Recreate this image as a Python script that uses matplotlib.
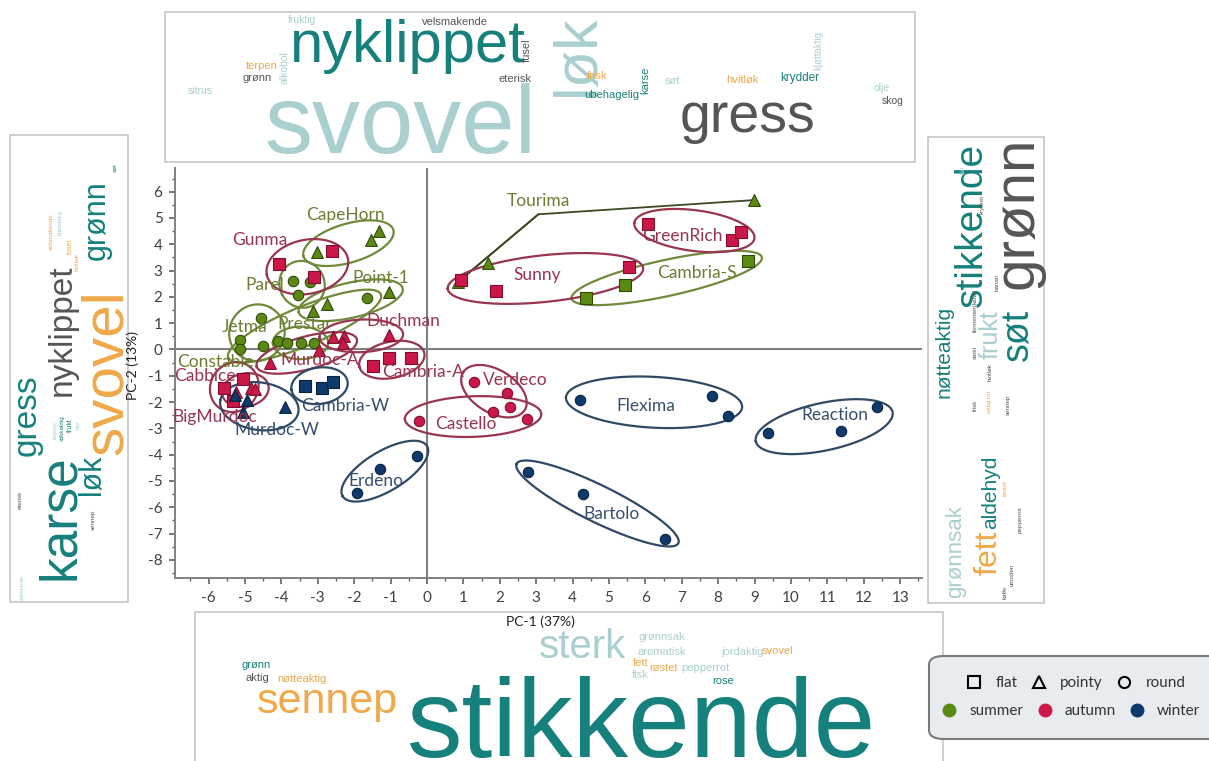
import matplotlib
matplotlib.use("Agg")
import matplotlib.pyplot as plt
import numpy as np
from matplotlib.patches import Rectangle, FancyBboxPatch
from matplotlib.lines import Line2D
from matplotlib.ticker import MultipleLocator

plt.rcParams["axes.unicode_minus"] = False
W, H = 1209, 761

# ---------------- data ----------------
names = ["CapeHorn", "Parel", "Point-1", "Jetma", "Prestar", "Constable", "Cambria-S", "Tourima",
         "Gunma", "Sunny", "GreenRich", "Duchman", "Murdoc-A", "Cambria-A", "Cabbice", "BigMurdoc",
         "Verdeco", "Castello",
         "Cambria-W", "Murdoc-W", "Erdeno", "Flexima", "Reaction", "Bartolo"]
seasons = ["summer"] * 8 + ["autumn"] * 10 + ["winter"] * 6
shapes = ["pointy", "round", "pointy", "round", "round", "round", "flat", "pointy",
          "flat", "flat", "flat", "pointy", "pointy", "flat", "flat", "pointy", "round", "round",
          "flat", "pointy", "round", "round", "round", "round"]
pc1 = [
    [-3.03, -1.54, -1.32],          # CapeHorn
    [-3.69, -3.54, -3.21],          # Parel
    [-3.14, -2.76, -1.04],          # Point-1
    [-4.57, -5.14, -4.51],          # Jetma
    [-5.14, -4.09, -1.64],          # Prestar
    [-3.85, -3.46, -3.10],          # Constable
    [4.36, 5.43, 8.83],             # Cambria-S
    [0.84, 1.68, 8.99],             # Tourima
    [-4.07, -2.61, -3.10],          # Gunma
    [0.93, 1.90, 5.55],             # Sunny
    [6.08, 8.37, 8.63],             # GreenRich
    [-2.57, -2.28, -1.04],          # Duchman
    [-4.31, -2.97, -2.30],          # Murdoc-A
    [-1.47, -1.04, -0.44],          # Cambria-A
    [-5.58, -5.05, -5.32],          # Cabbice
    [-4.84, -4.73, -5.25],          # BigMurdoc
    [1.29, 2.19, 2.28],             # Verdeco
    [-0.22, 1.80, 2.76],            # Castello
    [-3.35, -2.88, -2.57],          # Cambria-W
    [-5.27, -4.95, -5.05, -3.90],   # Murdoc-W
    [-1.93, -1.29, -0.28],          # Erdeno
    [4.20, 7.82, 8.26],             # Flexima
    [9.38, 11.37, 12.37],           # Reaction
    [2.78, 4.29, 6.54],             # Bartolo
]
pc2 = [
    [3.72, 4.16, 4.52],
    [2.62, 2.07, 2.58],
    [1.48, 1.72, 2.19],
    [1.19, 0.36, 0.13],
    [0.01, 0.33, 1.95],
    [0.24, 0.26, 0.24],
    [1.97, 2.45, 3.36],
    [2.56, 3.29, 5.68],
    [3.26, 3.76, 2.77],
    [2.64, 2.22, 3.13],
    [4.77, 4.17, 4.46],
    [0.46, 0.50, 0.56],
    [-0.50, -0.02, 0.26],
    [-0.62, -0.33, -0.31],
    [-1.48, -1.13, -1.96],
    [-1.48, -1.50, -1.62],
    [-1.22, -1.64, -2.20],
    [-2.72, -2.36, -2.64],
    [-1.39, -1.45, -1.22],
    [-1.73, -1.92, -2.37, -2.17],
    [-5.44, -4.56, -4.06],
    [-1.92, -1.77, -2.52],
    [-3.19, -3.10, -2.20],
    [-4.66, -5.49, -7.19],
]
x_ticks = list(range(-6, 14))
y_ticks = list(range(-8, 7))
x_label = "PC-1 (37%)"
y_label = "PC-2 (13%)"

# ---------------- styles ----------------
face = {"summer": "#5b8a14", "autumn": "#cc1748", "winter": "#0d3a6a"}
edge = {"summer": "#2f4a05", "autumn": "#7c0f2e", "winter": "#08233f"}
ring = {"summer": "#6f8a3a", "autumn": "#99354f", "winter": "#2f4a66"}
lab_col = {"summer": "#6b7d32", "autumn": "#9a3350", "winter": "#34506e"}
mk = {"flat": "s", "pointy": "^", "round": "o"}
msize = {"flat": 64, "pointy": 72, "round": 56}

# label positions (data coords) for the group names
label_pos = {
    "CapeHorn": (-2.23, 5.11), "Gunma": (-4.59, 4.16), "Parel": (-4.45, 2.45), "Point-1": (-1.26, 2.72),
    "Jetma": (-5.0, 0.86), "Prestar": (-3.35, 0.97), "Duchman": (-0.66, 1.08), "Constable": (-5.82, -0.48),
    "Murdoc-A": (-2.94, -0.40), "Cabbice": (-6.1, -1.0), "Cambria-A": (-0.11, -0.86),
    "BigMurdoc": (-5.82, -2.57), "Cambria-W": (-2.25, -2.15), "Murdoc-W": (-4.12, -3.06),
    "Verdeco": (2.42, -1.16), "Castello": (1.07, -2.83), "Flexima": (6.02, -2.15),
    "Reaction": (11.21, -2.49), "Erdeno": (-1.40, -5.0), "Bartolo": (5.08, -6.25),
    "Sunny": (3.02, 2.83), "GreenRich": (7.03, 4.32), "Cambria-S": (7.42, 2.91), "Tourima": (3.05, 5.65),
}
tourima_bend = (3.06, 5.14)

UI = ["Lato", "DejaVu Sans"]
WC = ["Liberation Sans", "DejaVu Sans"]

fig = plt.figure(figsize=(W / 100, H / 100), dpi=100)
fig.patch.set_facecolor("white")


def fx(x):
    return x / W


def fy(y):
    return 1 - y / H


# ---------------- word cloud panels ----------------
panels = [(165, 12, 915, 162), (10, 135, 128, 602), (928, 137, 1044, 603), (195, 612, 943, 775)]
for (x0, y0, x1, y1) in panels:
    fig.add_artist(Rectangle((fx(x0), fy(y1)), (x1 - x0) / W, (y1 - y0) / H, transform=fig.transFigure,
                             fc="white", ec="#c6c6c6", lw=1.2, zorder=0))

T, L, G, O = "#16807d", "#a9cfd0", "#555555", "#f0a848"
top_words = [
    ("svovel", 400, 153, 69, L, 0, "baseline"),
    ("nyklippet", 407, 62, 43, T, 0, "baseline"),
    ("gress", 748, 132, 40, G, 0, "baseline"),
    ("løk", 578, 55, 44, L, 90, "center"),
    ("fruktig", 302, 20, 7.5, L, 0, "center"),
    ("velsmakende", 455, 22, 8, G, 0, "center"),
    ("terpen", 262, 66, 8, O, 0, "center"),
    ("grønn", 257, 78, 8, G, 0, "center"),
    ("alkohol", 285, 68, 7.5, L, 90, "center"),
    ("sitrus", 200, 91, 7.5, L, 0, "center"),
    ("fusel", 527, 50, 8, G, 90, "center"),
    ("eterisk", 515, 79, 8, G, 0, "center"),
    ("frisk", 597, 76, 8, O, 0, "center"),
    ("ubehagelig", 612, 95, 8, T, 0, "center"),
    ("karse", 645, 80, 8, T, 90, "center"),
    ("søt", 672, 81, 8, L, 0, "center"),
    ("hvitløk", 742, 80, 8, O, 0, "center"),
    ("krydder", 800, 78, 8.5, T, 0, "center"),
    ("kjøttaktig", 818, 50, 7, L, 90, "center"),
    ("olje", 882, 88, 7.5, L, 0, "center"),
    ("skog", 893, 101, 7.5, G, 0, "center"),
]
bottom_words = [
    ("stikkende", 642, 757, 80, T, 0, "baseline"),
    ("sennep", 327, 713, 31, O, 0, "baseline"),
    ("sterk", 582, 658, 29, L, 0, "baseline"),
    ("grønnsak", 662, 637, 8, L, 0, "center"),
    ("aromatisk", 662, 652, 8, L, 0, "center"),
    ("jordaktig", 743, 652, 8, L, 0, "center"),
    ("svovel", 778, 651, 8, O, 0, "center"),
    ("fett", 641, 663, 8, O, 0, "center"),
    ("fisk", 640, 675, 8, L, 0, "center"),
    ("røstet", 664, 668, 8, O, 0, "center"),
    ("pepperrot", 705, 668, 8, L, 0, "center"),
    ("rose", 723, 681, 8, T, 0, "center"),
    ("grønn", 256, 665, 8, T, 0, "center"),
    ("aktig", 257, 678, 8, G, 0, "center"),
    ("nøtteaktig", 302, 679, 8, O, 0, "center"),
]
left_words = [
    ("karse", 60, 517, 37, T), ("svovel", 107, 372, 42, O), ("gress", 27, 415, 24, T),
    ("nyklippet", 62, 330, 24, G), ("løk", 91, 475, 22, T), ("grønn", 97, 220, 22, T),
    ("søt", 115, 168, 4.5, T), ("kjøttaktig", 60, 222, 4.5, L), ("velsmakende", 51, 232, 4.5, O),
    ("fusel", 70, 246, 5, O), ("hvitløk", 77, 262, 4.5, O), ("frukt", 70, 425, 5, T),
    ("olje", 78, 425, 4.5, L), ("terpen", 55, 430, 4.5, L), ("stikkaktig", 62, 428, 4.5, T),
    ("eterisk", 20, 500, 4.5, G), ("sennep", 93, 520, 4.5, G), ("stikkende", 22, 588, 4.5, L),
]
right_words = [
    ("grønn", 1018, 213, 42, G), ("stikkende", 972, 225, 28, T), ("søt", 1018, 335, 27, T),
    ("frukt", 991, 335, 18, L), ("nøtteaktig", 944, 352, 15, T), ("aldehyd", 991, 492, 15, T),
    ("fett", 988, 553, 23, O), ("grønnsak", 956, 552, 16, L),
    ("banan", 997, 282, 4.5, G), ("kanel", 975, 297, 4.5, G), ("fermentert", 975, 318, 4.5, G),
    ("stekt", 975, 352, 4.5, G), ("hvitløk", 990, 372, 4.5, G), ("aktig rot", 990, 402, 4.5, O),
    ("frisk", 975, 405, 4.5, G), ("sennep", 1008, 405, 4.5, G), ("røstet", 1005, 488, 4.5, O),
    ("pepperrot", 1020, 520, 4.5, G), ("umoden", 1012, 575, 4.5, G), ("kaffe", 1005, 592, 4.5, G),
    ("krydret", 982, 205, 4.5, G), ("kål", 963, 170, 4.5, L),
]
for (w, x, y, s, c, r, va) in top_words + bottom_words:
    fig.text(fx(x), fy(y), w, fontsize=s, color=c, rotation=r, ha="center", va=va, family=WC, zorder=1)
for (w, x, y, s, c) in left_words + right_words:
    fig.text(fx(x), fy(y), w, fontsize=s, color=c, rotation=90, ha="center", va="center", family=WC, zorder=1)

# ---------------- main axes ----------------
ax = fig.add_axes([fx(175), fy(578), (922 - 175) / W, (578 - 168) / H])
ax.patch.set_alpha(0)
ax.set_xlim(-6.923, 13.6)
ax.set_ylim(-8.69, 6.90)
for s in ("top", "right"):
    ax.spines[s].set_visible(False)
for s in ("left", "bottom"):
    ax.spines[s].set_color("#808080")
    ax.spines[s].set_linewidth(1.4)
ax.set_xticks(x_ticks)
ax.set_yticks(y_ticks)
ax.xaxis.set_minor_locator(MultipleLocator(0.5))
ax.yaxis.set_minor_locator(MultipleLocator(0.5))
ax.tick_params(which="major", direction="out", length=4, width=1.2, color="#606060",
               labelsize=11, labelcolor="#404040", pad=5)
ax.tick_params(which="minor", direction="out", length=2, width=1.0, color="#606060")
for lab in ax.get_xticklabels() + ax.get_yticklabels():
    lab.set_family(UI)
ax.axhline(0, color="#808080", lw=1.5, zorder=1)
ax.axvline(0, color="#808080", lw=1.5, zorder=1)


def ring_path(xs, ys, pad_a=14.0, pad_b=16.0):
    P = ax.transData.transform(np.column_stack([xs, ys]))
    c0 = P.mean(axis=0)
    Q = P - c0
    w, v = np.linalg.eigh(Q.T @ Q)
    u = v[:, np.argmax(w)]
    n = np.array([-u[1], u[0]])
    pu, pn = Q @ u, Q @ n
    cu, cn = (pu.max() + pu.min()) / 2, (pn.max() + pn.min()) / 2
    a = (pu.max() - pu.min()) / 2 + pad_a
    b = (pn.max() - pn.min()) / 2 + pad_b
    ctr = c0 + cu * u + cn * n
    t = np.linspace(0, 2 * np.pi, 240)
    E = ctr + np.outer(a * np.cos(t), u) + np.outer(b * np.sin(t), n)
    return ax.transData.inverted().transform(E)


for nm, ss, sh, xs, ys in zip(names, seasons, shapes, pc1, pc2):
    if nm == "Tourima":
        bx, by = tourima_bend
        ax.plot([xs[0], bx, xs[2]], [ys[0], by, ys[2]], color="#3b4a22", lw=1.3, zorder=2)
        p0 = ax.transData.transform((xs[0], ys[0])) + np.array([4.0, 3.0])
        q0 = ax.transData.inverted().transform(p0)
        ax.plot([q0[0], bx], [q0[1], by], color="#3b4a22", lw=1.3, zorder=2)
    else:
        E = ring_path(xs, ys)
        ax.plot(E[:, 0], E[:, 1], color=ring[ss], lw=1.6, zorder=2)
    ax.scatter(xs, ys, s=msize[sh], marker=mk[sh], c=face[ss], edgecolors=edge[ss], linewidths=0.8, zorder=3)
    lx, ly = label_pos[nm]
    ax.text(lx, ly, nm, color=lab_col[ss], fontsize=12.5, ha="center", va="center", family=UI, zorder=4)

fig.text(fx(540), fy(622), x_label, fontsize=10, color="#222222", ha="center", va="center", family=UI, zorder=5)
fig.text(fx(133), fy(365), y_label, fontsize=10, color="#222222", rotation=90, ha="center", va="center",
         family=UI, zorder=5)

# ---------------- legend ----------------
fig.add_artist(FancyBboxPatch((fx(929), fy(739)), (1225 - 929) / W, (739 - 656) / H,
                              boxstyle="round,pad=0,rounding_size=0.012", transform=fig.transFigure,
                              fc="#e8ecf0", ec="#7a7a7a", lw=1.5, zorder=5))
shape_handles = [Line2D([], [], ls="", marker=mk[k], mfc="none", mec="black", mew=1.5, ms=8) for k in
                 ("flat", "pointy", "round")]
season_handles = [Line2D([], [], ls="", marker="o", mfc=face[k], mec=face[k], ms=9) for k in
                  ("summer", "autumn", "winter")]
lg1 = fig.legend(shape_handles, ["flat", "pointy", "round"], ncol=3, frameon=False,
                 loc="center", bbox_to_anchor=(fx(1076), fy(683)), prop={"family": UI, "size": 11},
                 handletextpad=0.9, columnspacing=0.9, handlelength=1.0)
lg2 = fig.legend(season_handles, ["summer", "autumn", "winter"], ncol=3, frameon=False,
                 loc="center", bbox_to_anchor=(fx(1071), fy(711)), prop={"family": UI, "size": 11},
                 handletextpad=0.8, columnspacing=0.9, handlelength=1.0)
for lg in (lg1, lg2):
    lg.set_zorder(6)
    for t in lg.get_texts():
        t.set_color("#333333")

fig.savefig("out.png", dpi=100, facecolor="white")
